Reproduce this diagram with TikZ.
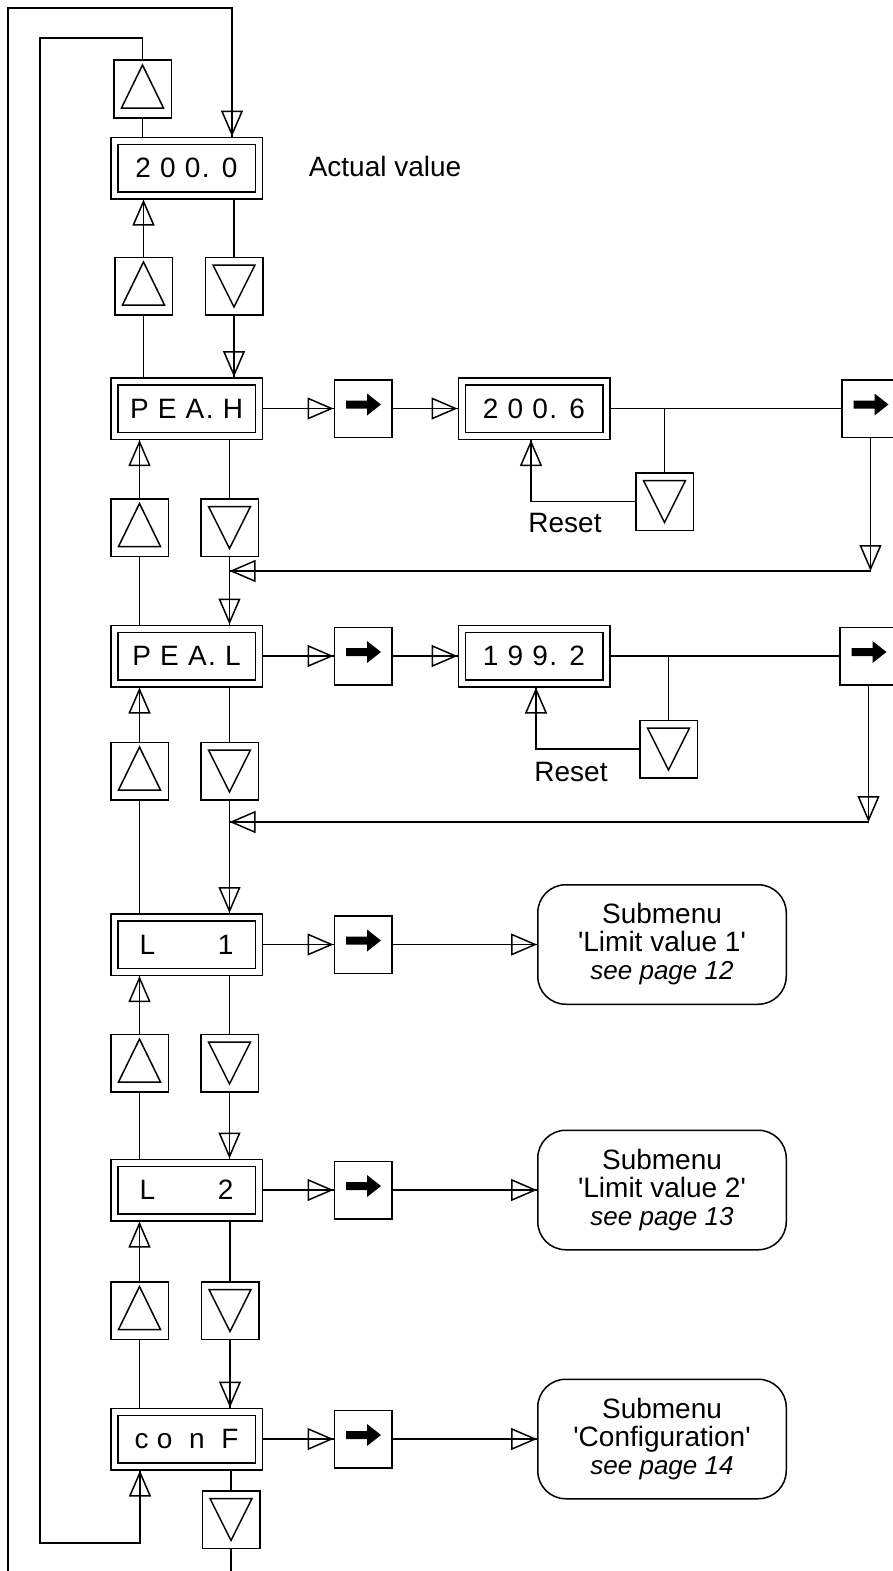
\documentclass[tikz,border=0pt]{standalone}
\usepackage{fontspec}
\setmainfont{Liberation Sans}
\newfontfamily\lcdface[LetterSpace=5]{Liberation Sans}
\usetikzlibrary{arrows.meta}

\tikzset{
  >={Triangle[open,length=26pt,width=22pt]},
  flow/.style={->,postaction={draw,-}},
  lcd/.style={draw, double, double distance=5.5pt, minimum width=144.5pt,
    minimum height=54.5pt, inner sep=0pt, outer sep=4.25pt,
    font=\fontsize{28pt}{28pt}\lcdface},
  key/.style={draw, minimum size=57.5pt, inner sep=0pt},
  upkey/.style={key, path picture={\draw (path picture bounding box.center)
    ++(-21pt,-19pt) -- ++(42pt,0pt) -- ++(-21pt,43pt) -- cycle;}},
  dnkey/.style={key, path picture={\draw (path picture bounding box.center)
    ++(-21pt,21pt) -- ++(42pt,0pt) -- ++(-21pt,-42pt) -- cycle;}},
  gokey/.style={key, path picture={\fill (path picture bounding box.center)
    ++(-17pt,0pt) -- ++(21pt,0pt) -- ++(0pt,-7pt) -- ++(14pt,11pt)
    -- ++(-14pt,11pt) -- ++(0pt,-7pt) -- ++(-21pt,0pt) -- cycle;}},
  submenu/.style={draw, rounded corners=28pt, minimum width=248.5pt,
    minimum height=119.5pt, align=center, inner sep=0pt},
}

\begin{document}
\begin{tikzpicture}[x=1pt, y=-1pt, line width=1.5pt,
    font=\fontsize{28pt}{28pt}\selectfont]
    \useasboundingbox (0,0) rectangle (893,1571);
    \clip (0,0) rectangle (893,1571);

    % main menu column
    \node[lcd] (act) at (186.5,168) {2 0 0. 0};
    \node[lcd] (peah) at (186.5,408.5) {P E A. H};
    \node[lcd] (peal) at (186.5,656) {P E A. L};
    \node[lcd] (lim1) at (186.5,944.5) {\makebox[94pt]{L\hfill1}};
    \node[lcd] (lim2) at (186.5,1190) {\makebox[94pt]{L\hfill2}};
    \node[lcd] (conf) at (186.5,1439) {\makebox[104pt]{c\hfill o\hfill\hfill n\hfill\hfill F}};
    \node[anchor=west, inner sep=0pt] (actlbl) at (308,166) {Actual value};

    % up / down keys between the displays
    \node[upkey] (uptop) at (142.5,89) {};
    \foreach \n/\xu/\xd/\y in {1/143.5/234/286, 2/139.5/229.5/527.5,
        3/139.5/229.5/771, 4/139.5/229.5/1063, 5/139.5/230/1310.5} {
        \node[upkey] (up\n) at (\xu,\y) {};
        \node[dnkey] (dn\n) at (\xd,\y) {};
    }
    \node[dnkey] (dn6) at (231,1519.5) {};

    \foreach \a/\b/\n in {act/peah/1, peah/peal/2, peal/lim1/3,
        lim1/lim2/4, lim2/conf/5} {
        \draw (\b.north -| up\n) -- (up\n);
        \draw[flow] (up\n) -- (up\n.north |- \a.south);
        \draw (\a.south -| dn\n) -- (dn\n);
        \draw[flow] (dn\n) -- (dn\n.south |- \b.north);
    }
    \draw (act.north -| uptop) -- (uptop);
    \draw (conf.south -| dn6) -- (dn6);

    % wrap-around loops
    \coordinate (innerbot) at (140,1543);
    \draw[flow] (uptop) |- (40,38) |- (innerbot) -- (innerbot |- conf.south);
    \coordinate (outerbot) at (8,1600);
    \coordinate (outertop) at (232,8);
    \draw[flow] (dn6) |- (outerbot) |- (outertop) -- (outertop |- act.north);

    % peak high
    \node[gokey] (goh) at (363,408.5) {};
    \node[lcd] (valh) at (534,408.5) {2 0 0. 6};
    \node[gokey] (goh2) at (870.5,408.5) {};
    \node[dnkey] (rsth) at (664.5,501.5) {};
    \node (rsthlbl) at (565,523) {Reset};
    \draw[flow] (peah) -- (goh);
    \draw[flow] (goh) -- (valh);
    \draw (valh) -- (goh2);
    \draw (rsth) -- (rsth |- valh.east);
    \draw[flow] (rsth.west) -| ([xshift=-3pt]valh.south);
    \draw[flow] (goh2) -- ++(0,162.5) coordinate (rth);
    \draw[flow] (rth) -- (rth -| dn2);

    % peak low
    \node[gokey] (gol) at (363,656) {};
    \node[lcd] (vall) at (534,656) {1 9 9. 2};
    \node[gokey] (gol2) at (868.5,656) {};
    \node[dnkey] (rstl) at (668.5,749) {};
    \node (rstllbl) at (571,772) {Reset};
    \draw[flow] (peal) -- (gol);
    \draw[flow] (gol) -- (vall);
    \draw (vall) -- (gol2);
    \draw (rstl) -- (rstl |- vall.east);
    \draw[flow] (rstl.west) -| ([xshift=2pt]vall.south);
    \draw[flow] (gol2) -- ++(0,166) coordinate (rtl);
    \draw[flow] (rtl) -- (rtl -| dn3);

    % submenus
    \node[gokey] (go1) at (363,944.5) {};
    \node[submenu] (sub1) at (662,944.5) {Submenu\\\textquotesingle Limit value 1\textquotesingle\\{\fontsize{26pt}{28pt}\selectfont\itshape see page 12}};
    \node[gokey] (go2) at (363,1190) {};
    \node[submenu] (sub2) at (662,1190) {Submenu\\\textquotesingle Limit value 2\textquotesingle\\{\fontsize{26pt}{28pt}\selectfont\itshape see page 13}};
    \node[gokey] (go3) at (363,1439) {};
    \node[submenu] (sub3) at (662,1439) {Submenu\\\textquotesingle Configuration\textquotesingle\\{\fontsize{26pt}{28pt}\selectfont\itshape see page 14}};
    \draw[flow] (lim1) -- (go1);
    \draw[flow] (go1) -- (sub1);
    \draw[flow] (lim2) -- (go2);
    \draw[flow] (go2) -- (sub2);
    \draw[flow] (conf) -- (go3);
    \draw[flow] (go3) -- (sub3);
\end{tikzpicture}
\end{document}
